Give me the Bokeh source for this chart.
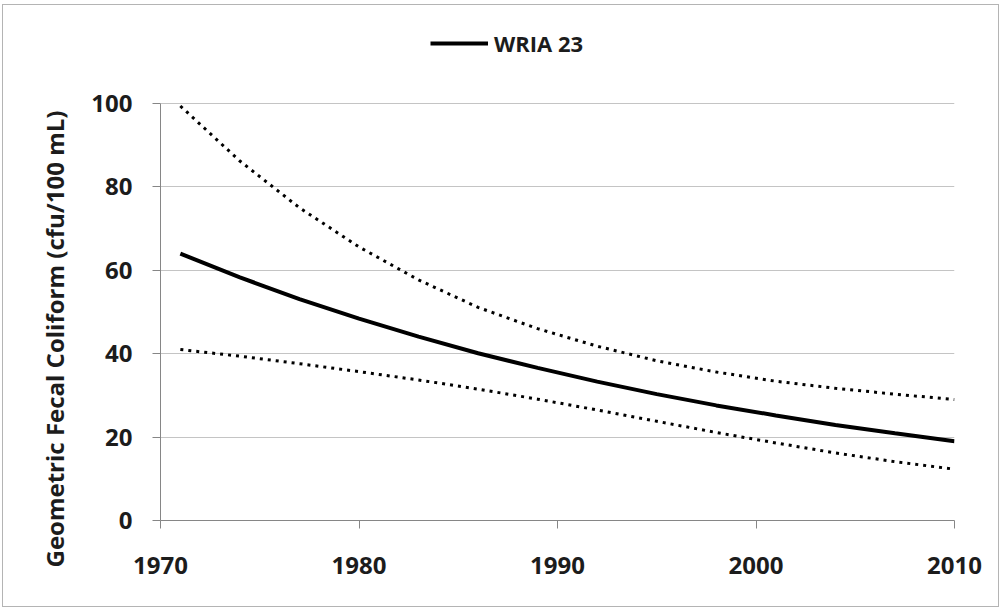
from bokeh.plotting import figure
from bokeh.models import Range1d, Legend, LegendItem, Title, FixedTicker
from bokeh.embed import file_html
from bokeh.resources import INLINE

# ---- data ----
years = [1971, 1974, 1977, 1980, 1983, 1986, 1989, 1992, 1995, 1998, 2001, 2004, 2007, 2010]
wria23 = [64.0, 58.3, 53.1, 48.4, 44.1, 40.1, 36.6, 33.3, 30.3, 27.6, 25.2, 22.9, 20.9, 19.0]
upper_ci = [99.4, 86.2, 75.0, 65.6, 57.7, 51.1, 46.0, 41.8, 38.3, 35.6, 33.4, 31.7, 30.3, 29.0]
lower_ci = [41.0, 39.4, 37.6, 35.7, 33.7, 31.5, 29.1, 26.5, 23.8, 21.1, 18.6, 16.2, 14.1, 12.3]
x_ticks = [1970, 1980, 1990, 2000, 2010]
y_ticks = [0, 20, 40, 60, 80, 100]
series_label = "WRIA 23"
y_title = "Geometric Fecal Coliform (cfu/100 mL)"

FONT = "Open Sans"
TEXT_COLOR = "#1c1c1c"
AXIS_COLOR = "#868686"

# frame spans up to the canvas top so the legend can sit above the 100 line;
# the y axis itself is bounded to 0..100
p = figure(
    width=997, height=603, title=None,
    x_range=Range1d(1970, 2010), y_range=Range1d(0, 123.5),
    output_backend="svg", toolbar_location=None,
    min_border_left=157, min_border_right=46,
    min_border_top=0, min_border_bottom=88,
)
p.styles = {"border": "1px solid #b4b4b4", "margin": "4px 0 0 2px"}
p.outline_line_color = None
p.background_fill_color = "white"
p.border_fill_color = "white"

# grid
p.xgrid.visible = False
p.ygrid.grid_line_color = "#c4c4c4"
p.ygrid.grid_line_width = 1

# axes
for ax in (p.xaxis[0], p.yaxis[0]):
    ax.axis_line_color = AXIS_COLOR
    ax.major_tick_line_color = AXIS_COLOR
    ax.minor_tick_line_color = None
    ax.major_tick_in = 0
    ax.major_tick_out = 8
    ax.major_label_text_font = FONT
    ax.major_label_text_font_style = "bold"
    ax.major_label_text_font_size = "24px"
    ax.major_label_text_color = TEXT_COLOR

p.xaxis[0].ticker = FixedTicker(ticks=x_ticks)
p.yaxis[0].ticker = FixedTicker(ticks=y_ticks)
p.yaxis[0].bounds = (0, 100)
p.xaxis[0].major_label_standoff = 28
p.yaxis[0].major_label_standoff = 20

# series
r_main = p.line(years, wria23, line_color="black", line_width=4)
p.line(years, upper_ci, line_color="black", line_width=3, line_dash="3 5")
p.line(years, lower_ci, line_color="black", line_width=3, line_dash="3 5")

# y-axis title (as a side-panel title so it may sit off-centre)
p.add_layout(Title(
    text=y_title, align="left", offset=-47, vertical_align="bottom", standoff=36,
    text_font=FONT, text_font_style="bold", text_font_size="24px",
    text_color=TEXT_COLOR,
), "left")

# legend
legend = Legend(
    items=[LegendItem(label=series_label, renderers=[r_main])],
    location=(270, 462), orientation="horizontal",
    padding=0, margin=0, spacing=0,
    border_line_color=None, background_fill_alpha=0,
    glyph_width=58, glyph_height=20, label_height=20,
    label_standoff=6,
    label_text_font=FONT, label_text_font_style="bold",
    label_text_font_size="22px", label_text_color=TEXT_COLOR,
)
p.add_layout(legend)

open("out.html", "w").write(file_html(p, INLINE))
